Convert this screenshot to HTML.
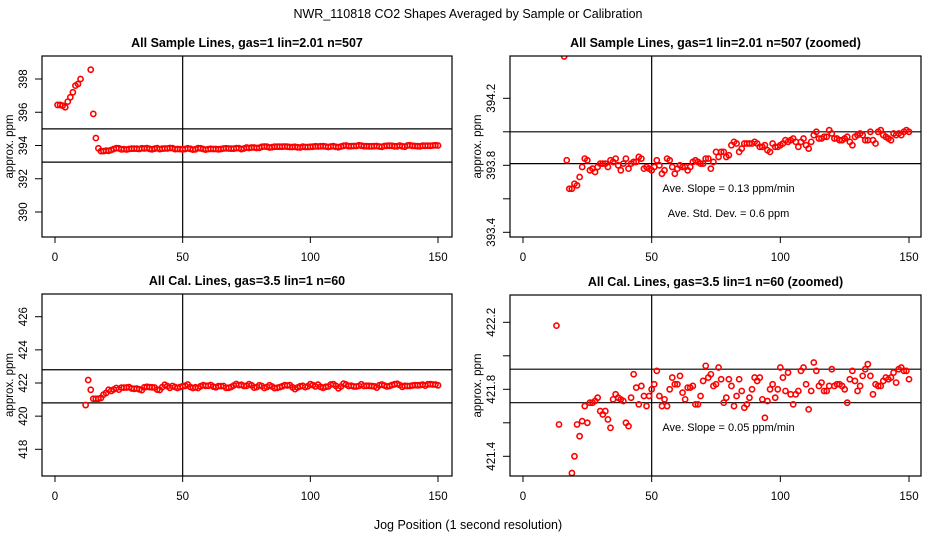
<!DOCTYPE html>
<html><head><meta charset="utf-8"><style>
html,body{margin:0;padding:0;background:#fff;width:936px;height:540px;overflow:hidden;}
svg{display:block;font-family:"Liberation Sans",sans-serif;overflow:hidden;}
</style></head><body>
<svg id="chart" width="936" height="540" viewBox="0 0 936 540">
<text x="468" y="18" text-anchor="middle" font-size="12.5">NWR_110818  CO2 Shapes Averaged by Sample or Calibration</text>
<text x="468" y="529" text-anchor="middle" font-size="12.5">Jog Position (1 second resolution)</text>
</svg>
<script>
const jogPositions = Array.from({length:150},(_,i)=>i+1);
const sampleValues = [396.44,396.44,396.40,396.30,396.64,396.90,397.20,397.60,397.70,398.00,null,null,null,398.56,395.90,394.45,393.83,393.66,393.66,393.69,
393.68,393.73,393.79,393.84,393.83,393.77,393.78,393.76,393.79,393.81,393.81,393.81,393.79,393.83,393.82,393.84,393.80,393.77,393.81,393.84,
393.78,393.81,393.82,393.82,393.85,393.84,393.78,393.79,393.78,393.77,393.79,393.83,393.80,393.75,393.77,393.84,393.83,393.79,393.75,393.78,
393.80,393.79,393.79,393.77,393.79,393.82,393.83,393.82,393.81,393.81,393.84,393.84,393.78,393.82,393.88,393.85,393.88,393.88,393.85,393.86,
393.92,393.94,393.93,393.88,393.90,393.93,393.93,393.93,393.93,393.94,393.93,393.91,393.91,393.92,393.89,393.88,393.93,393.91,393.91,393.92,
393.93,393.95,393.94,393.95,393.96,393.94,393.91,393.94,393.96,393.92,393.90,393.94,393.98,394.00,393.96,393.96,393.97,393.97,394.01,393.99,
393.96,393.96,393.95,393.95,393.96,393.97,393.94,393.92,393.97,393.98,393.99,393.98,393.95,393.95,394.00,393.95,393.93,394.00,394.01,393.98,
393.97,393.96,393.95,393.99,393.98,393.99,393.98,394.00,394.01,394.00];
const calValues = [null,null,null,null,null,null,null,null,null,null,null,420.67,422.18,421.59,421.05,421.05,421.05,421.10,421.30,421.40,
421.59,421.52,421.61,421.70,421.60,421.72,421.72,421.73,421.75,421.67,421.65,421.67,421.62,421.57,421.74,421.77,421.75,421.74,421.73,421.60,
421.58,421.75,421.89,421.81,421.71,421.82,421.76,421.70,421.76,421.80,421.83,421.91,421.76,421.70,421.74,421.70,421.80,421.87,421.83,421.83,
421.88,421.78,421.74,421.81,421.81,421.82,421.71,421.71,421.76,421.85,421.94,421.87,421.89,421.82,421.83,421.93,421.86,421.72,421.75,421.86,
421.82,421.70,421.76,421.86,421.79,421.69,421.71,421.75,421.80,421.87,421.85,421.87,421.74,421.63,421.73,421.80,421.83,421.75,421.80,421.93,
421.87,421.79,421.90,421.77,421.71,421.77,421.79,421.91,421.93,421.83,421.68,421.79,421.96,421.91,421.82,421.84,421.79,421.79,421.82,421.92,
421.82,421.83,421.83,421.82,421.80,421.72,421.86,421.91,421.85,421.79,421.82,421.88,421.92,421.95,421.88,421.77,421.83,421.82,421.82,421.85,
421.87,421.86,421.87,421.90,421.84,421.92,421.93,421.91,421.91,421.86];
const xTicks = [0,50,100,150];
const p1Ticks = [398,396,394,392,390];
const p2Ticks = [394.2,394.0,393.8,393.6,393.4];
const p2Labels = ["394.2","","393.8","","393.4"];
const p3Ticks = [426,424,422,420,418];
const p4Ticks = [422.2,422.0,421.8,421.6,421.4];
const p4Labels = ["422.2","","421.8","","421.4"];
const p1Lines = [395,393];
const p2Lines = [394.0,393.81];
const p3Lines = [422.8,420.8];
const p4Lines = [421.92,421.72];

const NS="http://www.w3.org/2000/svg";
const svg=document.getElementById('chart');
function mk(tag,attrs,parent){const e=document.createElementNS(NS,tag);for(const k in attrs)e.setAttribute(k,attrs[k]);(parent||svg).appendChild(e);return e;}

const panels=[
 {id:'p1',title:'All Sample Lines, gas=1 lin=2.01 n=507',L:42,R:452,T:56,B:237,x0:55,x150:438,tv1:398,ty1:79,tv2:390,ty2:212,ticks:p1Ticks,labels:p1Ticks.map(String),lines:p1Lines,vals:sampleValues,texts:[]},
 {id:'p2',title:'All Sample Lines, gas=1 lin=2.01 n=507 (zoomed)',L:510,R:921,T:56,B:237,x0:523,x150:909,tv1:394.2,ty1:98.3,tv2:393.4,ty2:232.3,ticks:p2Ticks,labels:p2Labels,lines:p2Lines,vals:sampleValues,texts:[['Ave. Slope =  0.13  ppm/min',192,'slope-annotation'],['Ave. Std. Dev. =  0.6  ppm',217,'std-dev-annotation']]},
 {id:'p3',title:'All Cal. Lines, gas=3.5 lin=1 n=60',L:42,R:452,T:294,B:476,x0:55,x150:438,tv1:426,ty1:316.7,tv2:418,ty2:449.3,ticks:p3Ticks,labels:p3Ticks.map(String),lines:p3Lines,vals:calValues,texts:[]},
 {id:'p4',title:'All Cal. Lines, gas=3.5 lin=1 n=60 (zoomed)',L:510,R:921,T:295,B:476,x0:523,x150:909,tv1:422.2,ty1:322.3,tv2:421.4,ty2:456.3,ticks:p4Ticks,labels:p4Labels,lines:p4Lines,vals:calValues,texts:[['Ave. Slope =  0.05  ppm/min',431,'slope-annotation']]}
];

panels.forEach(p=>{
 const xs=v=>p.x0+(v/150)*(p.x150-p.x0);
 const ys=v=>p.ty1+(p.tv1-v)*(p.ty2-p.ty1)/(p.tv1-p.tv2);
 const g=mk('g',{});
 
 
 const cx=(p.L+p.R)/2;
 const t=mk('text',{x:cx,y:p.T-9,'text-anchor':'middle','font-size':'12.5','font-weight':'bold'},g);
 t.textContent=p.title;
 
 
 const cp=mk('clipPath',{id:'clip-'+p.id},g);
 mk('rect',{x:p.L,y:p.T,width:p.R-p.L,height:p.B-p.T},cp);
 const rl=mk('g',{stroke:'#000','stroke-width':1.2},g);
 p.lines.forEach(v=>{const l=mk('line',{x1:p.L,x2:p.R,y1:ys(v),y2:ys(v)},rl);
  
  });
 const vl=mk('line',{x1:xs(50),x2:xs(50),y1:p.T,y2:p.B},rl);
 
 
 const pg=mk('g',{'clip-path':'url(#clip-'+p.id+')',fill:'none',stroke:'#ff0000','stroke-width':1.6},g);
 p.vals.forEach((v,i)=>{ if(v===null) return;
  const py=ys(v);
  if(py<p.T-3||py>p.B+3) return;
  const c=mk('circle',{cx:xs(jogPositions[i]),cy:py,r:2.6},pg);
  
  });
 const box=mk('rect',{x:p.L,y:p.T,width:p.R-p.L,height:p.B-p.T,fill:'none',stroke:'#000','stroke-width':1.2},g);
 
 
 xTicks.forEach(v=>{mk('line',{x1:xs(v),x2:xs(v),y1:p.B,y2:p.B+6,stroke:'#000'},g);
  const tl=mk('text',{x:xs(v),y:p.B+24,'text-anchor':'middle','font-size':'11.5'},g);tl.textContent=v;
  
  });
 p.ticks.forEach((v,i)=>{mk('line',{x1:p.L-7,x2:p.L,y1:ys(v),y2:ys(v),stroke:'#000'},g);
  if(p.labels[i]){const tl=mk('text',{x:0,y:0,'text-anchor':'middle','font-size':'11.5',transform:'translate('+(p.L-15)+','+ys(v)+') rotate(-90)'},g);tl.textContent=p.labels[i];
  
  }});
 const ya=mk('text',{x:0,y:0,'text-anchor':'middle','font-size':'11.5',transform:'translate('+(p.L-29)+','+((p.T+p.B)/2)+') rotate(-90)'},g);
 ya.textContent='approx. ppm';
 
 
 p.texts.forEach(tx=>{const a=mk('text',{x:cx+13,y:tx[1],'text-anchor':'middle','font-size':'11'},g);a.textContent=tx[0];
  
  });
});
</script>
</body></html>
